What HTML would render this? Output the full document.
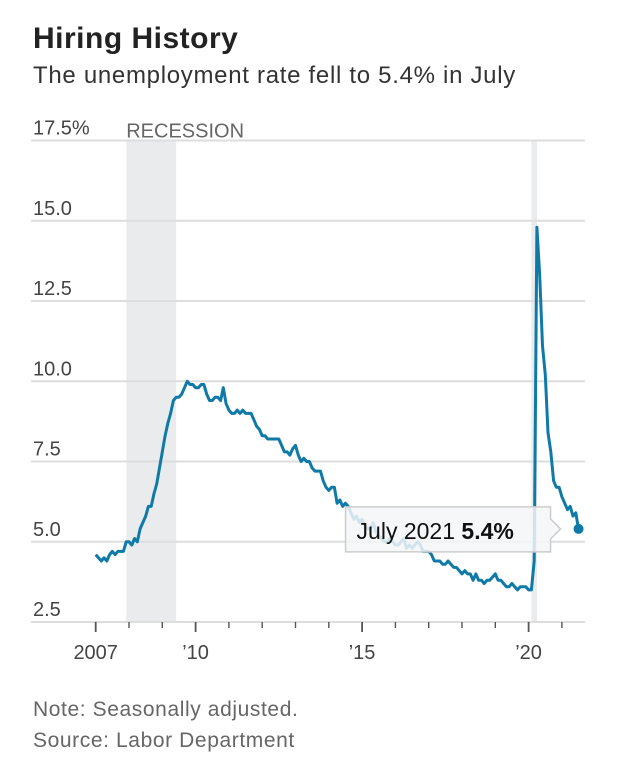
<!DOCTYPE html>
<html><head><meta charset="utf-8"><style>
body{margin:0;background:#fff;width:620px;height:769px;overflow:hidden;font-family:"Liberation Sans",sans-serif;}
.t{position:absolute;left:33px;top:22px;font-size:30px;font-weight:bold;color:#222;letter-spacing:0.5px}
.s{position:absolute;left:33px;top:62px;font-size:24px;color:#333;letter-spacing:0.7px}
.n{position:absolute;left:33px;font-size:21px;color:#666;letter-spacing:0.6px}
svg{position:absolute;left:0;top:0}
</style></head><body>
<div class="t">Hiring History</div>
<div class="s">The unemployment rate fell to 5.4% in July</div>
<div class="n" style="top:698px">Note: Seasonally adjusted.</div>
<div class="n" style="top:729px">Source: Labor Department</div>
<svg id="c" width="620" height="769"></svg>
<script>
const startYear = 2007;
const rates = [
4.6,4.5,4.4,4.5,4.4,4.6,4.7,4.6,4.7,4.7,4.7,5.0,
5.0,4.9,5.1,5.0,5.4,5.6,5.8,6.1,6.1,6.5,6.8,7.3,
7.8,8.3,8.7,9.0,9.4,9.5,9.5,9.6,9.8,10.0,9.9,9.9,
9.8,9.8,9.9,9.9,9.6,9.4,9.4,9.5,9.5,9.4,9.8,9.3,
9.1,9.0,9.0,9.1,9.0,9.1,9.0,9.0,9.0,8.8,8.6,8.5,
8.3,8.3,8.2,8.2,8.2,8.2,8.2,8.0,7.8,7.8,7.7,7.9,
8.0,7.7,7.5,7.6,7.5,7.5,7.3,7.2,7.2,7.2,6.9,6.7,
6.6,6.7,6.7,6.2,6.3,6.1,6.2,6.1,5.9,5.7,5.8,5.6,
5.7,5.5,5.4,5.4,5.6,5.3,5.2,5.1,5.0,5.0,5.1,5.0,
4.9,4.9,5.0,5.1,4.8,4.9,4.8,4.9,5.0,4.9,4.7,4.7,
4.7,4.6,4.4,4.4,4.4,4.3,4.3,4.4,4.3,4.2,4.2,4.1,
4.0,4.1,4.0,4.0,3.8,4.0,3.8,3.8,3.7,3.8,3.8,3.9,
4.0,3.8,3.8,3.7,3.6,3.6,3.7,3.6,3.5,3.6,3.6,3.6,
3.5,3.5,4.4,14.8,13.3,11.1,10.2,8.4,7.8,6.9,6.7,6.7,
6.4,6.2,6.0,6.1,5.8,5.9,5.4];
const yTicks = [2.5,5.0,7.5,10.0,12.5,15.0,17.5];
const yTickLabels = ["2.5","5.0","7.5","10.0","12.5","15.0","17.5%"];
const xTickYears = [2007,2008,2009,2010,2011,2012,2013,2014,2015,2016,2017,2018,2019,2020,2021];
const xLabelYears = [2007,2010,2015,2020];
const xLabels = ["2007","\u201910","\u201915","\u201920"];
const recessions = [[2007+11/12,2009+5/12],[2020+1/12,2020+3/12]];
const lastLabel = "July 2021", lastValue = "5.4%";

const NS="http://www.w3.org/2000/svg", svg=document.getElementById('c');
const X=t=>95.7+(t-2007)*33.3, Y=v=>622-(v-2.5)*32.1;
function mk(tag,a,p){const e=document.createElementNS(NS,tag);for(const k in a)e.setAttribute(k,a[k]);(p||svg).appendChild(e);return e;}
recessions.forEach(r=>{const e=mk('rect',{x:X(r[0]),y:Y(17.5),width:X(r[1])-X(r[0]),height:Y(2.5)-Y(17.5),fill:'#e9ebed'});

});
const rl=mk('text',{x:X(2007+11/12)+0,y:Y(17.5)-3,'font-size':20,fill:'#666','font-family':'Liberation Sans'});rl.textContent='RECESSION';


yTicks.forEach((v,i)=>{const g=mk('line',{x1:31,x2:585,y1:Y(v),y2:Y(v),stroke:'#ddd','stroke-width':2});


const t=mk('text',{x:33,y:Y(v)-6,'font-size':20,fill:'#444','font-family':'Liberation Sans'});t.textContent=yTickLabels[i];

});
xTickYears.forEach(y=>{const big=xLabelYears.includes(y);const l=mk('line',{x1:X(y),x2:X(y),y1:622,y2:big?632:628,stroke:'#555','stroke-width':big?1.8:1.4});

});
xLabelYears.forEach((y,i)=>{const t=mk('text',{x:X(y),y:659,'font-size':20,fill:'#444','text-anchor':'middle','font-family':'Liberation Sans'});t.textContent=xLabels[i];

});
const pts=rates.map((v,i)=>X(2007+i/12).toFixed(1)+','+Y(v).toFixed(1)).join(' ');
const line=mk('polyline',{points:pts,fill:'none',stroke:'#0f7aa8','stroke-width':3,'stroke-linejoin':'round'});


const li=rates.length-1, lx=X(2007+li/12), ly=Y(rates[li]);
const dot=mk('circle',{cx:lx,cy:ly,r:5,fill:'#0f7aa8'});


const tb=mk('path',{d:`M${lx-233},${ly-22} H${lx-28} V${ly-10} L${lx-18},${ly} L${lx-28},${ly+10} V${ly+23} H${lx-233} Z`,fill:'rgba(245,246,247,0.85)',stroke:'#ccc','stroke-width':1.5});


const tt=mk('text',{x:lx-222,y:ly+10,'font-size':23,fill:'#111','font-family':'Liberation Sans'});
tt.setAttribute('xml:space','preserve');
tt.textContent=lastLabel+'  ';
const tsp=mk('tspan',{'font-weight':'bold'},tt);tsp.textContent=lastValue;


</script>
</body></html>
